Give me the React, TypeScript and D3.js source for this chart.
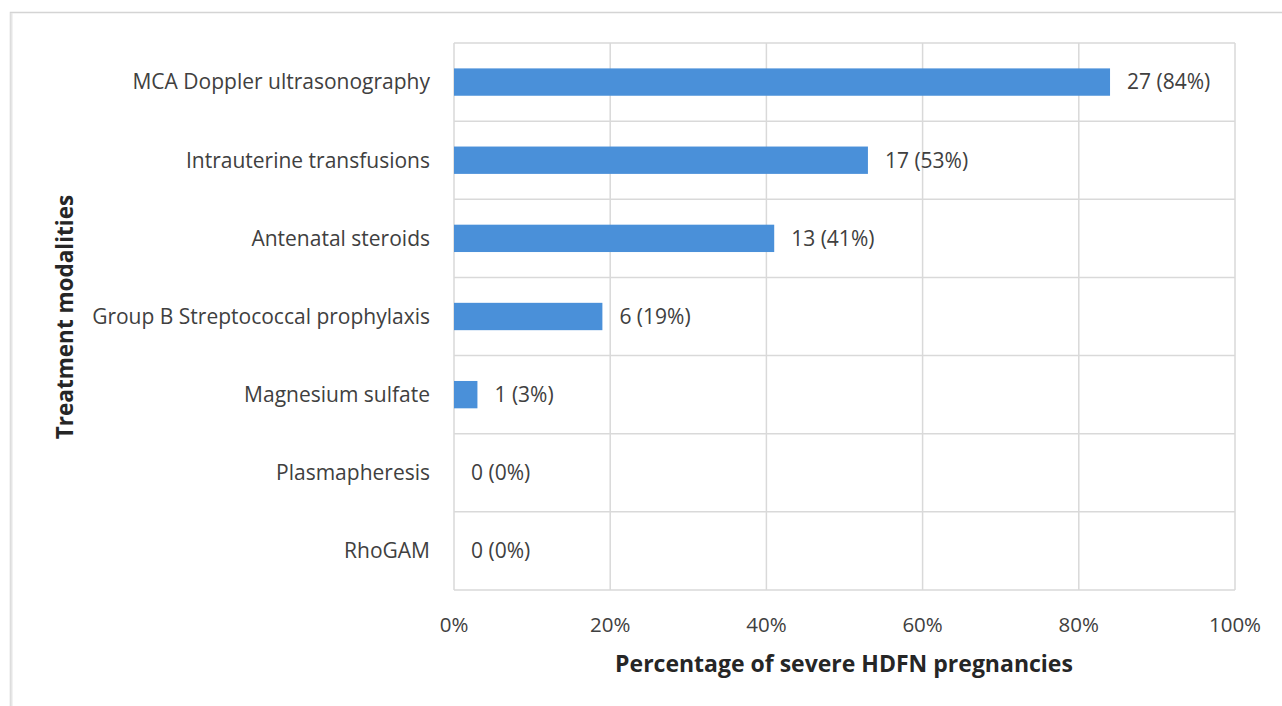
import React from "react";
import * as d3 from "d3";

const categories = [
  "MCA Doppler ultrasonography",
  "Intrauterine transfusions",
  "Antenatal steroids",
  "Group B Streptococcal prophylaxis",
  "Magnesium sulfate",
  "Plasmapheresis",
  "RhoGAM",
];
const counts = [27, 17, 13, 6, 1, 0, 0];
const percents = [84, 53, 41, 19, 3, 0, 0];
const xTicks = [0, 20, 40, 60, 80, 100];

const W = 1282;
const H = 706;
const M = { left: 454, right: 1235, top: 43, bottom: 590 };
const FONT = "'Open Sans', Lato, sans-serif";

export default function App() {
  const x = d3.scaleLinear().domain([0, 100]).range([M.left, M.right]);
  const y = d3
    .scaleBand<string>()
    .domain(categories)
    .range([M.top, M.bottom])
    .paddingInner(0.65)
    .paddingOuter(0.325);
  const step = y.step();
  const bandTop = (c: string) => (y(c) as number) - y.paddingOuter() * step;

  return (
    <svg
      width={W}
      height={H}
      style={{ position: "absolute", left: 0, top: 0, display: "block", background: "#fff" }}
      fontFamily={FONT}
    >
      {/* card frame */}
      <rect x={10.5} y={12.5} width={W + 20} height={H + 20} fill="#fff" stroke="#d4d4d4" strokeWidth={1.5} />
      <line x1={11.5} y1={13} x2={11.5} y2={H} stroke="#e6e6e6" strokeWidth={2} />

      {/* vertical gridlines */}
      {xTicks.map((t) => (
        <line key={"vg" + t} x1={x(t)} x2={x(t)} y1={M.top} y2={M.bottom} stroke="#d9d9d9" strokeWidth={1.5} />
      ))}
      {/* horizontal gridlines at band boundaries */}
      {categories.map((c) => (
        <line key={"hg" + c} x1={M.left} x2={M.right} y1={bandTop(c)} y2={bandTop(c)} stroke="#d9d9d9" strokeWidth={1.5} />
      ))}
      <line x1={M.left} x2={M.right} y1={M.bottom} y2={M.bottom} stroke="#d9d9d9" strokeWidth={1.5} />

      {/* bars */}
      {categories.map((c, i) => (
        <rect key={"b" + c} x={x(0)} y={y(c) as number} width={x(percents[i]) - x(0)} height={y.bandwidth()} fill="#4a90d9" />
      ))}

      {/* value labels */}
      {categories.map((c, i) => (
        <text
          key={"v" + c}
          x={x(percents[i]) + 17}
          y={(y(c) as number) + y.bandwidth() / 2}
          dy="0.35em"
          fontSize={21}
          fill="#404040"
        >
          {`${counts[i]} (${percents[i]}%)`}
        </text>
      ))}

      {/* category labels */}
      {categories.map((c) => (
        <text
          key={"c" + c}
          x={430}
          y={(y(c) as number) + y.bandwidth() / 2}
          dy="0.35em"
          textAnchor="end"
          fontSize={21}
          fill="#404040"
        >
          {c}
        </text>
      ))}

      {/* x tick labels */}
      {xTicks.map((t) => (
        <text key={"xt" + t} x={x(t)} y={625} dy="0.35em" textAnchor="middle" fontSize={20.5} fill="#404040">
          {`${t}%`}
        </text>
      ))}

      {/* axis titles */}
      <text x={844} y={664} dy="0.35em" textAnchor="middle" fontSize={23} fontWeight="bold" fill="#262626">
        Percentage of severe HDFN pregnancies
      </text>
      <text
        transform={`translate(65, 317) rotate(-90)`}
        dy="0.35em"
        textAnchor="middle"
        fontSize={22.5}
        fontWeight="bold"
        fill="#262626"
      >
        Treatment modalities
      </text>
    </svg>
  );
}
